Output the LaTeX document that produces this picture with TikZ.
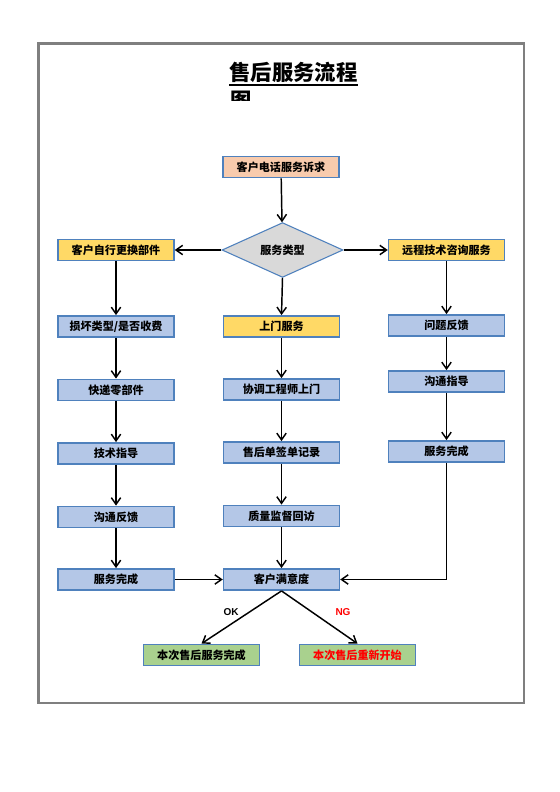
\documentclass[tikz,border=0pt]{standalone}
\usepackage{fontspec}
\usetikzlibrary{shapes.geometric,arrows.meta}
\newfontfamily\cjk{Noto Sans CJK SC}
\newfontfamily\latinlab{Liberation Sans}
\definecolor{bordblue}{HTML}{4F81BD}
\definecolor{fillblue}{HTML}{B4C7E7}
\definecolor{fillyellow}{HTML}{FFD966}
\definecolor{fillpeach}{HTML}{F8CBAD}
\definecolor{fillgreen}{HTML}{A9D18E}
\definecolor{fillgray}{HTML}{D9D9D9}
\definecolor{framegray}{HTML}{7F7F7F}
\begin{document}
\begin{tikzpicture}[x=0.75pt,y=-0.75pt,
  box/.style={draw=bordblue,line width=1.1pt,inner sep=0pt,minimum width=87pt,minimum height=16pt,
    font=\cjk\bfseries\fontsize{8.3}{10}\selectfont,text=black},
  bluebox/.style={box,fill=fillblue},
  yellowbox/.style={box,fill=fillyellow},
  peachbox/.style={box,fill=fillpeach},
  greenbox/.style={box,fill=fillgreen},
  decision/.style={diamond,draw=bordblue,line width=0.8pt,fill=fillgray,inner sep=0pt,
    minimum width=90.75pt,minimum height=34.5pt,font=\cjk\bfseries\fontsize{8.3}{10}\selectfont},
  arr/.style={draw=black,line width=1.1pt,-{Straight Barb[length=5pt,width=7pt,line width=1.1pt]}},
  lab/.style={font=\latinlab\bfseries\fontsize{7.5}{9}\selectfont,inner sep=0pt}
]
\useasboundingbox[fill=white] (0,0) rectangle (560,792);
\draw[framegray,line width=1.6pt] (38.5,43.5) rectangle (524,703);

% title
\node[font=\cjk\bfseries\fontsize{16}{19}\selectfont,inner sep=0pt] (title) at (293.5,72) {售后服务流程};
\draw[line width=1.5pt] ([yshift=-1.8pt]title.south west) -- ([yshift=-1.8pt]title.south east);
\begin{scope}
\clip (220,88) rectangle (270,100);
\node[font=\cjk\bfseries\fontsize{16}{19}\selectfont,inner sep=0pt,anchor=north west] (tu) at (230,90.5) {图};
\end{scope}

% nodes
\node[peachbox] (req) at (281,167) {客户电话服务诉求};
\node[decision] (type) at (282.5,250) {服务类型};
\node[yellowbox] (l1) at (116,250) {客户自行更换部件};
\node[yellowbox] (r1) at (446.5,250) {远程技术咨询服务};

\node[bluebox] (l2) at (116,326.5) {损坏类型/是否收费};
\node[yellowbox] (m2) at (281.5,326.5) {上门服务};
\node[bluebox] (r2) at (446.5,325.5) {问题反馈};

\node[bluebox] (l3) at (116,390) {快递零部件};
\node[bluebox] (m3) at (281.5,389.5) {协调工程师上门};
\node[bluebox] (r3) at (446.5,381.5) {沟通指导};

\node[bluebox] (l4) at (116,453.5) {技术指导};
\node[bluebox] (m4) at (281.5,452.5) {售后单签单记录};
\node[bluebox] (r4) at (446.5,451.5) {服务完成};

\node[bluebox] (l5) at (116,517) {沟通反馈};
\node[bluebox] (m5) at (281.5,516) {质量监督回访};

\node[bluebox] (l6) at (116,579.5) {服务完成};
\node[bluebox] (m6) at (281.5,579.5) {客户满意度};

\node[greenbox] (g1) at (201.5,655) {本次售后服务完成};
\node[greenbox,text=red] (g2) at (357.5,655) {本次售后重新开始};

\node[lab] (ok) at (231,612.5) {OK};
\node[lab,text=red] (ng) at (343,612.5) {NG};

% connectors
\draw[arr] (req) -- (type);
\draw[arr] (type) -- (l1);
\draw[arr] (type) -- (r1);
\draw[arr] (type.south) -- (m2.north);
\draw[arr] (l1) -- (l2);
\draw[arr] (l2) -- (l3);
\draw[arr] (l3) -- (l4);
\draw[arr] (l4) -- (l5);
\draw[arr] (l5) -- (l6);
\draw[arr] (m2) -- (m3);
\draw[arr] (m3) -- (m4);
\draw[arr] (m4) -- (m5);
\draw[arr] (m5) -- (m6);
\draw[arr] (r1) -- (r2);
\draw[arr] (r2) -- (r3);
\draw[arr] (r3) -- (r4);
\draw[arr] (r4.south) |- (m6.east);
\draw[arr] (l6) -- (m6);
\draw[arr] (m6.south) -- (g1.north);
\draw[arr] (m6.south) -- (g2.north);
\end{tikzpicture}
\end{document}
